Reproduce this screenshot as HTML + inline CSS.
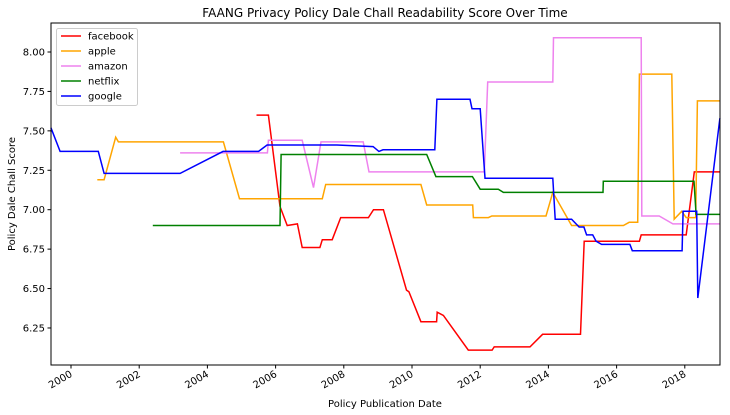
<!DOCTYPE html>
<html><head><meta charset="utf-8"><style>
body{margin:0;background:#fff;}
svg{display:block;font-family:"DejaVu Sans","Liberation Sans",sans-serif;}
</style></head><body>
<svg id="chart" width="730" height="415" viewBox="0 0 730 415" xmlns="http://www.w3.org/2000/svg">
<text x="385" y="17" text-anchor="middle" font-size="12">FAANG Privacy Policy Dale Chall Readability Score Over Time</text>
<text x="385" y="407" text-anchor="middle" font-size="10">Policy Publication Date</text>
<text x="15" y="194" text-anchor="middle" font-size="10" transform="rotate(-90 15 194)">Policy Dale Chall Score</text>
<g id="ticks"></g>
<g id="lines"></g>
<rect x="51" y="23" width="669" height="342" fill="none" stroke="#000" stroke-width="1"/>
<g id="legend"></g>
</svg>
<script>
const fbX=[2005.44,2005.79,2006.13,2006.34,2006.64,2006.78,2007.3,2007.37,2007.66,2007.91,2008.72,2008.87,2009.16,2009.84,2009.91,2010.26,2010.72,2010.74,2010.92,2011.65,2012.35,2012.41,2013.46,2013.83,2014.94,2015.05,2016.67,2016.72,2018.04,2018.28,2019.03];
const fbY=[7.60,7.60,7.02,6.90,6.91,6.76,6.76,6.81,6.81,6.95,6.95,7.00,7.00,6.49,6.48,6.29,6.29,6.35,6.33,6.11,6.11,6.13,6.13,6.21,6.21,6.80,6.80,6.84,6.84,7.24,7.24];
const apX=[2000.77,2000.97,2001.31,2001.39,2004.47,2004.94,2007.37,2007.47,2010.26,2010.43,2011.78,2011.8,2012.24,2012.34,2013.93,2014.13,2014.68,2016.2,2016.37,2016.62,2016.67,2017.62,2017.69,2017.91,2018.04,2018.32,2018.37,2019.03];
const apY=[7.19,7.19,7.46,7.43,7.43,7.07,7.07,7.16,7.16,7.03,7.03,6.95,6.95,6.96,6.96,7.11,6.90,6.90,6.92,6.92,7.86,7.86,6.94,6.99,6.95,6.95,7.69,7.69];
const amX=[2003.2,2005.76,2005.79,2006.78,2007.11,2007.33,2008.57,2008.74,2012.12,2012.22,2014.13,2014.15,2016.72,2016.74,2017.25,2017.65,2019.03];
const amY=[7.36,7.36,7.44,7.44,7.14,7.43,7.43,7.24,7.24,7.81,7.81,8.09,8.09,6.96,6.96,6.91,6.91];
const nfX=[2002.4,2006.13,2006.16,2010.43,2010.7,2011.77,2012.0,2012.53,2012.68,2015.6,2015.61,2018.27,2018.33,2019.03];
const nfY=[6.90,6.90,7.35,7.35,7.21,7.21,7.13,7.13,7.11,7.11,7.18,7.18,6.97,6.97];
const goX=[1999.41,1999.68,2000.8,2000.97,2003.2,2004.46,2005.5,2005.75,2007.8,2008.86,2009.03,2009.15,2010.67,2010.73,2011.7,2011.76,2012.0,2012.14,2014.13,2014.2,2014.68,2014.9,2015.04,2015.12,2015.3,2015.4,2015.56,2016.39,2016.46,2017.92,2017.95,2018.35,2018.38,2019.03];
const goY=[7.52,7.37,7.37,7.23,7.23,7.37,7.37,7.41,7.41,7.40,7.37,7.38,7.38,7.70,7.70,7.64,7.64,7.20,7.20,6.94,6.94,6.89,6.89,6.84,6.84,6.80,6.78,6.78,6.74,6.74,6.99,6.99,6.44,7.58];
const seriesNames=["facebook","apple","amazon","netflix","google"];
const seriesColors=["red","orange","violet","green","blue"];
const xTicks=[2000,2002,2004,2006,2008,2010,2012,2014,2016,2018];
const yTicks=[6.25,6.50,6.75,7.00,7.25,7.50,7.75,8.00];

const ns="http://www.w3.org/2000/svg";
function xs(v){return 71+(v-2000)*34.1;}
function ys(v){return 52+(8-v)*157.7;}
const tg=document.getElementById('ticks');
xTicks.forEach(t=>{
  const l=document.createElementNS(ns,'line');
  
  
  l.setAttribute('x1',xs(t));l.setAttribute('x2',xs(t));l.setAttribute('y1',365);l.setAttribute('y2',368.5);l.setAttribute('stroke','#000');
  tg.appendChild(l);
  const tx=document.createElementNS(ns,'text');
  
  
  tx.setAttribute('x',xs(t)+2);tx.setAttribute('y',376);tx.setAttribute('font-size','10');tx.setAttribute('text-anchor','end');
  tx.setAttribute('transform','rotate(-30 '+(xs(t)+2)+' 376)');
  tx.textContent=t;tg.appendChild(tx);
});
yTicks.forEach(t=>{
  const l=document.createElementNS(ns,'line');
  
  
  l.setAttribute('x1',47.5);l.setAttribute('x2',51);l.setAttribute('y1',ys(t));l.setAttribute('y2',ys(t));l.setAttribute('stroke','#000');
  tg.appendChild(l);
  const tx=document.createElementNS(ns,'text');
  
  
  tx.setAttribute('x',45);tx.setAttribute('y',ys(t)+3.5);tx.setAttribute('font-size','10');tx.setAttribute('text-anchor','end');
  tx.textContent=t.toFixed(2);tg.appendChild(tx);
});
const data=[[fbX,fbY],[apX,apY],[amX,amY],[nfX,nfY],[goX,goY]];
const lg=document.getElementById('lines');
data.forEach((d,i)=>{
  const p=document.createElementNS(ns,'polyline');
  
  
  p.setAttribute('points',d[0].map((x,j)=>xs(x).toFixed(1)+','+ys(d[1][j]).toFixed(1)).join(' '));
  p.setAttribute('fill','none');p.setAttribute('stroke',seriesColors[i]);p.setAttribute('stroke-width','1.5');
  lg.appendChild(p);
});
const leg=document.getElementById('legend');
const box=document.createElementNS(ns,'rect');


box.setAttribute('x',56.5);box.setAttribute('y',28.5);box.setAttribute('width',81);box.setAttribute('height',77);box.setAttribute('rx',2);
box.setAttribute('fill','#fff');box.setAttribute('fill-opacity','0.8');box.setAttribute('stroke','#ccc');
leg.appendChild(box);
seriesNames.forEach((n,i)=>{
  const y=36+i*15;
  const l=document.createElementNS(ns,'line');
  
  
  l.setAttribute('x1',61);l.setAttribute('x2',81);l.setAttribute('y1',y);l.setAttribute('y2',y);l.setAttribute('stroke',seriesColors[i]);l.setAttribute('stroke-width','1.5');
  leg.appendChild(l);
  const t=document.createElementNS(ns,'text');
  
  
  t.setAttribute('x',88);t.setAttribute('y',y+3.5);t.setAttribute('font-size','10');
  t.textContent=n;leg.appendChild(t);
});
</script>
</body></html>
